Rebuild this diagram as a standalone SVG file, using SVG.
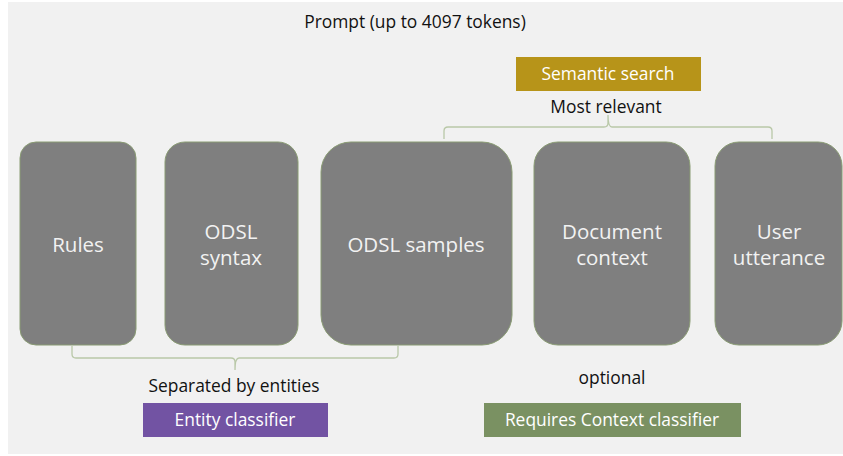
<svg xmlns="http://www.w3.org/2000/svg" width="843" height="456" viewBox="0 0 843 456">
<style>
.node rect.box{fill:#7f7f7f;stroke:#8a9c74;stroke-width:1}
.lbl{font-family:"Open Sans","Noto Sans","Liberation Sans",sans-serif;font-size:20.5px;fill:#f2f2f2;text-anchor:middle}
.txt{font-family:"Open Sans","Noto Sans","Liberation Sans",sans-serif;font-size:17.4px;fill:#111111;text-anchor:middle}
.tag{font-family:"Open Sans","Noto Sans","Liberation Sans",sans-serif;font-size:17.4px;fill:#ffffff;text-anchor:middle}
.brace{fill:none;stroke:#b9c8a8;stroke-width:1.3}
</style>
<rect x="8" y="2" width="835" height="452" fill="#f1f1f1"/>
<text class="txt" x="415" y="28">Prompt (up to 4097 tokens)</text>

<g id="semantic-search">
<rect x="516" y="57" width="185" height="34" fill="#b79419"/>
<text class="tag" x="608" y="80">Semantic search</text>
</g>
<text class="txt" x="606" y="113">Most relevant</text>

<g id="connectors">
<path class="brace" d="M444,139 L444,131 Q444,127 448,127 L604,127 Q608,127 608,123 L608,115 Q608,127 612,127 L768,127 Q772,127 772,131 L772,139"/>
<path class="brace" d="M72,346 L72,354 Q72,358 76,358 L231,358 Q235,358 235,362 L235,370 Q235,358 239,358 L394,358 Q398,358 398,354 L398,346"/>
</g>

<g id="rules" class="node">
<rect class="box" x="20" y="142" width="116" height="203" rx="16"/>
<text class="lbl" x="78" y="252">Rules</text>
</g>
<g id="odsl-syntax" class="node">
<rect class="box" x="165" y="142" width="133" height="203" rx="20"/>
<text class="lbl" x="231" y="239">ODSL</text>
<text class="lbl" x="231" y="265">syntax</text>
</g>
<g id="odsl-samples" class="node">
<rect class="box" x="321" y="142" width="191" height="203" rx="30"/>
<text class="lbl" x="416" y="252">ODSL samples</text>
</g>
<g id="document-context" class="node">
<rect class="box" x="534" y="142" width="156" height="203" rx="24"/>
<text class="lbl" x="612" y="239">Document</text>
<text class="lbl" x="612" y="265">context</text>
</g>
<g id="user-utterance" class="node">
<rect class="box" x="715" y="142" width="127" height="203" rx="24"/>
<text class="lbl" x="779" y="239">User</text>
<text class="lbl" x="779" y="265">utterance</text>
</g>

<text class="txt" x="234" y="392">Separated by entities</text>
<g id="entity-classifier">
<rect x="143" y="403" width="185" height="34" fill="#7253a3"/>
<text class="tag" x="235" y="426">Entity classifier</text>
</g>

<text class="txt" x="612" y="384">optional</text>
<g id="requires-context-classifier">
<rect x="484" y="403" width="257" height="34" fill="#7a9162"/>
<text class="tag" x="612" y="426">Requires Context classifier</text>
</g>
</svg>
